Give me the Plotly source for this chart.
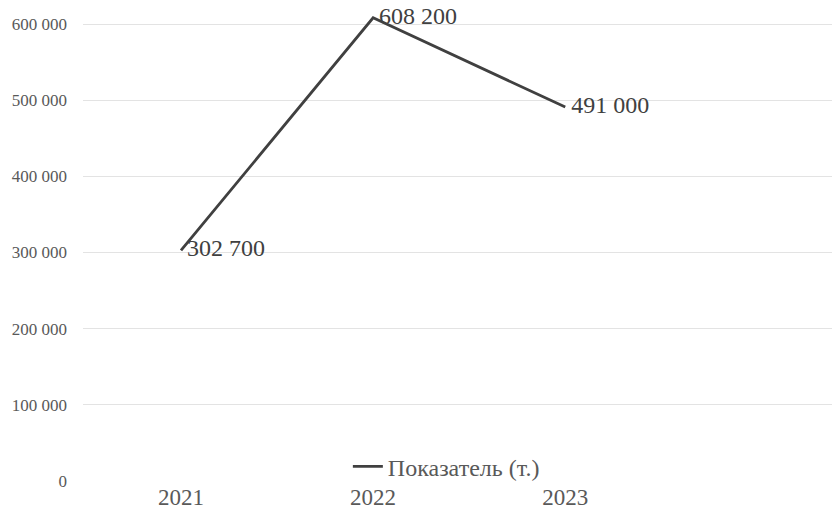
import plotly.graph_objects as go

years = ["2021", "2022", "2023"]
values = [302700, 608200, 491000]
labels = ["302 700", "608 200", "491 000"]
series_name = "Показатель (т.)"
y_ticks = [0, 100000, 200000, 300000, 400000, 500000, 600000]
y_ticktext = ["0", "100 000", "200 000", "300 000", "400 000", "500 000", "600 000"]

fig = go.Figure()
fig.add_trace(go.Scatter(
    x=years, y=values, mode="lines+text", name=series_name,
    text=[" " + t for t in labels], textposition="middle right",
    textfont=dict(family="Liberation Serif", size=24, color="#404040"),
    line=dict(color="#404040", width=2.8),
    cliponaxis=False,
))

fig.update_layout(
    width=840, height=515,
    margin=dict(l=75, r=8, t=0, b=42),
    paper_bgcolor="white", plot_bgcolor="white",
    font=dict(family="Liberation Serif", color="#595959"),
    showlegend=True,
    legend=dict(orientation="h", x=0.48, y=0.03, xanchor="center", yanchor="middle",
                itemwidth=30,
                font=dict(size=24, color="#595959"), bgcolor="rgba(0,0,0,0)"),
    xaxis=dict(type="category", range=[-0.51, 3.43], showgrid=False, zeroline=False,
               showline=False, ticks="", tickfont=dict(size=23, color="#595959")),
    yaxis=dict(range=[0, 621000], tickvals=y_ticks, ticktext=y_ticktext,
               showgrid=True, gridcolor="#e3e3e3", gridwidth=1.3, zeroline=False,
               showline=False, ticks="", ticklabelstandoff=15,
               tickfont=dict(size=17, color="#595959")),
)

fig.write_html("out.html")
